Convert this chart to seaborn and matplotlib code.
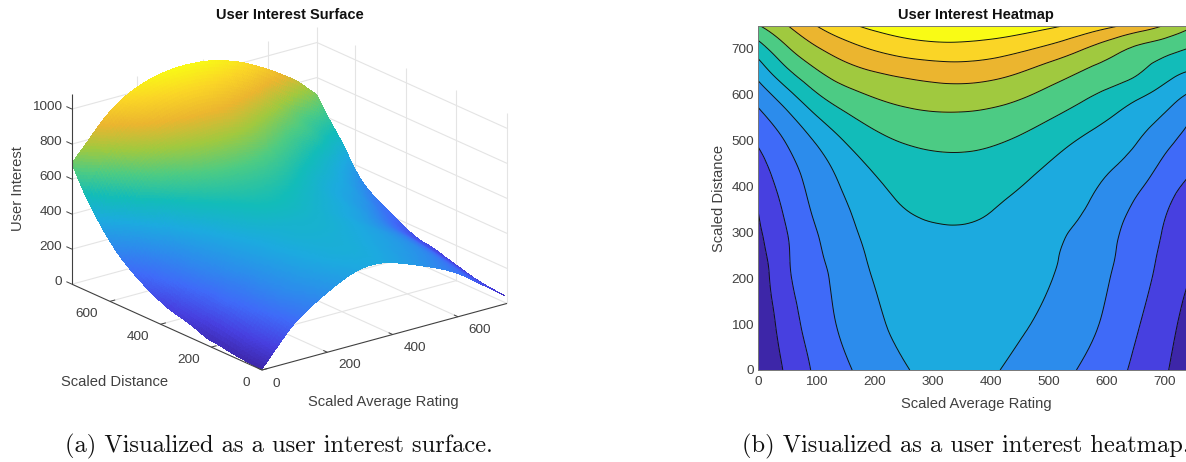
import numpy as np
import matplotlib
matplotlib.use("Agg")
import matplotlib.pyplot as plt
import matplotlib.tri as mtri
from matplotlib.transforms import Affine2D
from mpl_toolkits.mplot3d import proj3d
import seaborn as sns

# ---- data ----
rating = [0, 50, 100, 150, 200, 250, 300, 350, 400, 450, 500, 550, 600, 650, 700, 750]
distance = [0, 100, 200, 250, 300, 350, 400, 450, 500, 550, 600, 650, 700, 750]
interest = [
    [6, 116, 217, 286, 342, 391, 423, 429, 410, 377, 339, 298, 246, 180, 109, 40],
    [15, 150, 249, 321, 380, 425, 449, 452, 436, 411, 380, 339, 283, 211, 135, 51],
    [36, 183, 268, 342, 404, 445, 465, 467, 456, 435, 405, 362, 307, 241, 166, 88],
    [58, 190, 281, 357, 416, 455, 475, 479, 469, 447, 416, 368, 317, 253, 179, 108],
    [83, 199, 296, 373, 429, 466, 486, 491, 482, 459, 426, 385, 327, 264, 192, 128],
    [101, 220, 317, 390, 450, 497, 522, 522, 503, 476, 448, 412, 354, 282, 208, 140],
    [129, 244, 334, 413, 480, 527, 551, 551, 531, 502, 468, 431, 385, 321, 239, 171],
    [167, 271, 359, 449, 519, 561, 579, 581, 568, 538, 498, 455, 416, 366, 281, 211],
    [213, 309, 410, 505, 571, 606, 620, 623, 613, 587, 545, 497, 454, 406, 330, 249],
    [269, 373, 490, 579, 635, 666, 680, 682, 671, 646, 607, 559, 507, 451, 386, 295],
    [343, 467, 589, 665, 710, 738, 755, 758, 745, 716, 675, 629, 579, 523, 457, 376],
    [438, 581, 688, 758, 799, 826, 844, 851, 838, 804, 755, 704, 660, 613, 543, 490],
    [550, 687, 787, 857, 908, 944, 963, 965, 950, 919, 875, 816, 748, 683, 636, 589],
    [691, 795, 898, 974, 1024, 1054, 1071, 1075, 1068, 1049, 1018, 975, 923, 862, 791, 701],
]
contour_levels = [100, 200, 300, 400, 500, 600, 700, 800, 900, 1000]
band_colors = ["#3d26a8", "#4740e0", "#3f6af8", "#2c8cec", "#1caadf", "#12bcb9",
               "#4ccb84", "#a0c93f", "#ebb52f", "#fad526", "#f9fb15"]
heat_ticks = [0, 100, 200, 300, 400, 500, 600, 700]
surf_ticks = [0, 200, 400, 600]
z_ticks = [0, 200, 400, 600, 800, 1000]

# ---- style ----
W, H = 1186, 462
sns.set_theme(style="white")
plt.rcParams["font.family"] = ["Liberation Sans", "DejaVu Sans"]
INK = "#404040"
GRID = "#e4e4e4"
TICK_FS = 9.7
LABEL_FS = 10.6
TITLE_FS = 10.5
CAPTION_FS = 17.6

parula = sns.blend_palette(band_colors, n_colors=256, as_cmap=True)

fig = plt.figure(figsize=(W / 100, H / 100), dpi=100, facecolor="white")


def px(x, y):
    return x / W, 1 - y / H


X, Y = np.meshgrid(np.array(rating, float), np.array(distance, float))
Z = np.array(interest, float)
tri = mtri.Triangulation(X.ravel(), Y.ravel())
interp = mtri.CubicTriInterpolator(tri, Z.ravel(), kind="min_E")
fine_tri, fine_z = mtri.UniformTriRefiner(tri).refine_field(Z.ravel(), interp, subdiv=3)

# ---- right: heatmap ----
ax2 = fig.add_axes([758 / W, 1 - 370 / H, 436 / W, 344 / H])
ax2.tricontourf(fine_tri, fine_z, levels=[-1000] + contour_levels + [5000], colors=band_colors)
ax2.tricontour(fine_tri, fine_z, levels=contour_levels, colors="#111111", linewidths=0.7)
ax2.set_xlim(0, 750)
ax2.set_ylim(0, 750)
ax2.set_xticks(heat_ticks)
ax2.set_yticks(heat_ticks)
ax2.tick_params(direction="in", length=3, width=0.6, color="#555555", labelcolor=INK,
                labelsize=TICK_FS, top=True, right=True, bottom=True, left=True)
ax2.tick_params(axis="x", pad=4.5)
ax2.tick_params(axis="y", pad=3)
for s in ax2.spines.values():
    s.set_color("#777777")
    s.set_linewidth(0.7)
fig.text(*px(976, 404), "Scaled Average Rating", ha="center", va="center", color=INK, fontsize=LABEL_FS)
fig.text(*px(719, 198), "Scaled Distance", ha="center", va="center", rotation=90, color=INK, fontsize=LABEL_FS)
fig.text(*px(976, 15), "User Interest Heatmap", ha="center", va="center", color="#111111",
         fontsize=TITLE_FS, fontweight="bold")

# ---- left: surface ----
ZMAX = 1086
ax = fig.add_axes([0, 0, 0.5, 1], projection="3d", proj_type="ortho", facecolor="none")
ax.view_init(elev=20.5, azim=-127.8)
ax.set_xlim(0, 750)
ax.set_ylim(0, 750)
ax.set_zlim(0, ZMAX)
ax.set_box_aspect((310, 310, 203), zoom=1.0)
ax.computed_zorder = False
ax.set_axis_off()


def line(xs, ys, zs, color=GRID, lw=0.8, z=1):
    ax.plot(xs, ys, zs, color=color, lw=lw, zorder=z, solid_capstyle="butt")


for v in surf_ticks[1:]:
    line([v, v], [0, 750], [0, 0])
    line([0, 750], [v, v], [0, 0])
    line([v, v], [750, 750], [0, ZMAX])
    line([750, 750], [v, v], [0, ZMAX])
line([750, 750], [0, 0], [0, ZMAX])
line([750, 750], [750, 750], [0, ZMAX])
line([750, 750], [0, 750], [0, 0])
line([0, 750], [750, 750], [0, 0])
for v in z_ticks[1:]:
    line([0, 750], [750, 750], [v, v])
    line([750, 750], [750, 0], [v, v])

ax.plot_trisurf(fine_tri, fine_z, cmap=parula, vmin=0, vmax=1080, linewidth=0,
                antialiased=False, zorder=2)

line([0, 750], [0, 0], [0, 0], INK, 0.8, 3)
line([0, 0], [0, 750], [0, 0], INK, 0.8, 3)
line([0, 0], [750, 750], [0, ZMAX], INK, 0.8, 3)
for v in surf_ticks:
    line([v, v], [0, 16], [0, 0], INK, 0.7, 3)
    line([0, 16], [v, v], [0, 0], INK, 0.7, 3)
for v in z_ticks:
    line([0, 0], [750, 772], [v, v], INK, 0.7, 3)


# Fit the projected floor onto the reference corners.
def corner(x, y, z):
    p, q, _ = proj3d.proj_transform(x, y, z, ax.get_proj())
    return ax.transData.transform((p, q))


fig.canvas.draw()
a, b = corner(0, 0, 0), corner(750, 0, 0)
ax.set_box_aspect((310, 310, 203), zoom=245.0 / (b[0] - a[0]))
fig.canvas.draw()
a = corner(0, 0, 0)
shift_x, shift_y = 262 - a[0], (H - 370) - a[1]
box = ax.get_position(original=True)
ax.set_position([box.x0 + shift_x / W, box.y0 + shift_y / H, box.width, box.height])


def tick_label(x, y, z, s, dx, dy, **kw):
    tr = ax.transData + Affine2D().translate(dx, -dy)
    ax.text(x, y, z, s, transform=tr, color=INK, fontsize=TICK_FS, ha="center", va="center", zorder=4, **kw)


for v in surf_ticks:
    ox, oy = (14, 14) if v == 0 else (22, 13)
    tick_label(v, 0, 0, str(v), ox, oy)
    ox = -16 if v == 0 else -23
    tick_label(0, v, 0, str(v), ox, 13)
for v in z_ticks:
    tr = ax.transData + Affine2D().translate(-10, 2)
    ax.text(0, 750, v, str(v), transform=tr, color=INK, fontsize=TICK_FS, ha="right", va="center", zorder=4)

fig.text(*px(115, 382), "Scaled Distance", ha="center", va="center", color=INK, fontsize=LABEL_FS)
fig.text(*px(383, 402), "Scaled Average Rating", ha="center", va="center", color=INK, fontsize=LABEL_FS)
fig.text(*px(18, 189), "User Interest", ha="center", va="center", rotation=90, color=INK, fontsize=LABEL_FS)
fig.text(*px(290, 15), "User Interest Surface", ha="center", va="center", color="#111111",
         fontsize=TITLE_FS, fontweight="bold")

# ---- captions ----
fig.text(*px(65, 446), "(a) Visualized as a user interest surface.", ha="left", va="center",
         family="cmr10", fontsize=CAPTION_FS, color="#111111")
fig.text(*px(742, 446), "(b) Visualized as a user interest heatmap.", ha="left", va="center",
         family="cmr10", fontsize=CAPTION_FS, color="#111111")

fig.savefig("out.png", dpi=100, facecolor="white")
